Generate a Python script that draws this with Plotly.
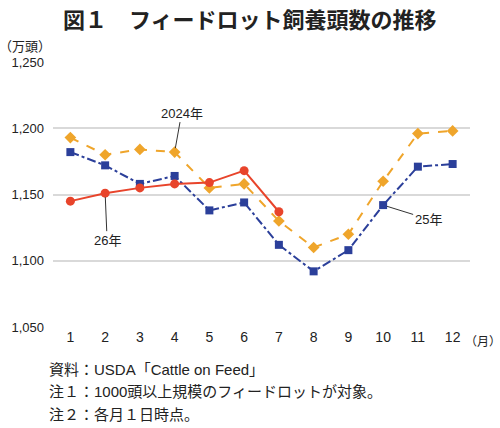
import plotly.graph_objects as go

months = [str(m) for m in range(1, 13)]
y2024 = [1193, 1180, 1184, 1182, 1155, 1158, 1130, 1110, 1120, 1160, 1196, 1198]
y2025 = [1182, 1172, 1158, 1164, 1138, 1144, 1112, 1092, 1108, 1142, 1171, 1173]
y2026 = [1145, 1151, 1155, 1158, 1159, 1168, 1137]
notes = ["資料：USDA「Cattle on Feed」",
         "注１：1000頭以上規模のフィードロットが対象。",
         "注２：各月１日時点。"]

FONT = "Liberation Sans, Arial, Noto Sans CJK JP"
JP = "Noto Sans CJK JP"
W, H = 500, 428
L, R, T, B = 53, 30, 62, 101
pw, ph = W - L - R, H - T - B


def page_text(px, py, text, size, family=FONT, xanchor="left"):
    # place a label by page pixels (from top-left)
    fig.add_annotation(x=(px - L) / pw, y=(H - B - py) / ph, xref="paper", yref="paper",
                       xanchor=xanchor, yanchor="middle", text=text, showarrow=False,
                       align="left", font=dict(size=size, color="#222222", family=family))


fig = go.Figure()
fig.add_trace(go.Scatter(
    x=months, y=y2024, mode="lines+markers", name="2024年",
    line=dict(color="#EFA52B", width=2, dash="dash"),
    marker=dict(symbol="diamond", size=9, color="#EFA52B"),
))
fig.add_trace(go.Scatter(
    x=months, y=y2025, mode="lines+markers", name="25年",
    line=dict(color="#2B3F9A", width=2, dash="dashdot"),
    marker=dict(symbol="square", size=8, color="#2B3F9A"),
))
fig.add_trace(go.Scatter(
    x=months[:len(y2026)], y=y2026, mode="lines+markers", name="26年",
    line=dict(color="#E8442B", width=2),
    marker=dict(symbol="circle", size=9, color="#E8442B"),
))

# callouts: (series values, month index, text, offset)
annos = [
    (y2024, 3, "2024年", 7, -39),
    (y2026, 1, "26年", 2, 47),
    (y2025, 9, "25年", 45, 14),
]
for vals, i, text, ax, ay in annos:
    fig.add_annotation(
        x=i, y=vals[i], text=text, ax=ax, ay=ay,
        showarrow=True, arrowhead=0, arrowwidth=1, arrowcolor="#333333",
        standoff=4, font=dict(size=13, color="#222222", family=FONT),
    )

page_text(250, 18, "<b>図１　フィードロット飼養頭数の推移</b>", 22, JP, xanchor="center")
page_text(-3, 45, "（万頭）", 13, JP)
page_text(503, 340, "（月）", 12, JP, xanchor="right")
for i, line in enumerate(notes):
    page_text(47, 369 + 22.5 * i, line, 15)

fig.update_layout(
    width=W, height=H,
    margin=dict(l=L, r=R, t=T, b=B),
    plot_bgcolor="white", paper_bgcolor="white",
    showlegend=False,
    font=dict(family=FONT, size=13, color="#222222"),
    xaxis=dict(type="category", range=[-0.5, 11.5], showgrid=False, showline=False,
               ticks="", tickfont=dict(size=14), automargin=False),
    yaxis=dict(range=[1050, 1250], dtick=50, tickformat=",", showgrid=True,
               gridcolor="#D9D9D9", gridwidth=1.5, zeroline=False,
               tickfont=dict(size=13), ticklabelstandoff=8, automargin=False),
)

fig.write_html("out.html", config={"displayModeBar": False},
               post_script="document.body.style.margin='0';")
